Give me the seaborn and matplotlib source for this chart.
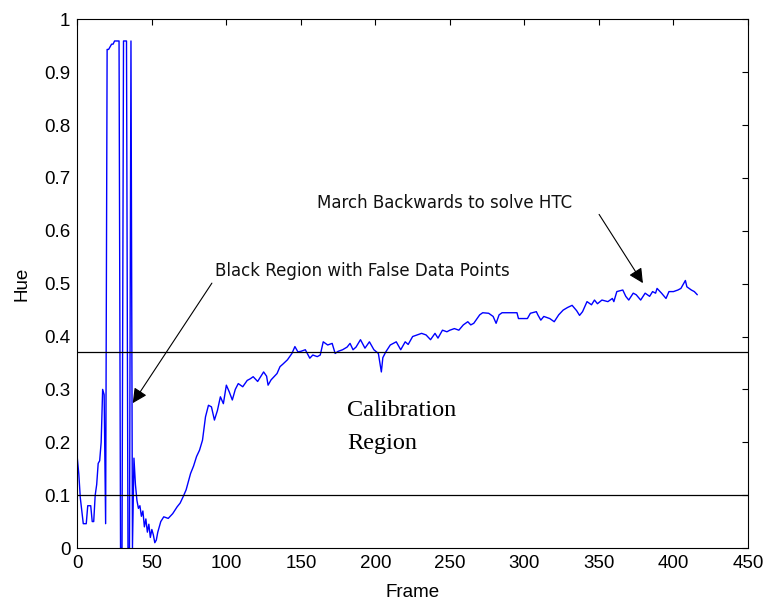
import matplotlib
matplotlib.use("Agg")
import matplotlib.pyplot as plt
import seaborn as sns
import pandas as pd

# ---- data ----
frames = [0, 1, 2, 3, 4, 5, 6, 7, 8, 9, 10, 11, 12, 13, 14, 15, 16, 17, 18, 19,
          20, 21, 22, 23, 24, 25, 26, 27, 28, 29, 30, 31, 32, 33, 34, 35, 36, 37,
          38, 39, 40, 41, 42, 43, 44, 45, 46, 47, 48, 49, 50, 51, 52, 53, 54, 55,
          56, 58, 61, 64, 67, 69, 71, 73, 76, 78, 80, 82, 84, 86, 88, 90, 92, 94,
          96, 98, 100, 102, 104, 106, 108, 111, 114, 116, 118, 121, 125, 127, 128,
          130, 132, 134, 136, 138, 141, 144, 146, 148, 150, 153, 156, 158, 161,
          163, 165, 168, 171, 173, 175, 178, 181, 183, 185, 187, 190, 193, 196,
          199, 202, 204, 205, 207, 210, 214, 217, 220, 222, 225, 228, 231, 234,
          237, 240, 242, 245, 248, 250, 253, 256, 259, 262, 264, 266, 270, 272,
          276, 279, 281, 283, 285, 290, 295, 296, 299, 302, 304, 308, 309, 311,
          313, 317, 320, 323, 326, 329, 332, 335, 337, 339, 342, 345, 347, 349,
          352, 356, 359, 360, 362, 366, 368, 370, 373, 375, 378, 381, 384, 386,
          388, 389, 392, 395, 397, 400, 403, 405, 407, 408, 409, 412, 414, 416]
hue = [0.170, 0.140, 0.095, 0.070, 0.046, 0.046, 0.046, 0.080, 0.080, 0.080,
       0.050, 0.050, 0.100, 0.120, 0.160, 0.165, 0.200, 0.300, 0.290, 0.046,
       0.943, 0.943, 0.948, 0.953, 0.953, 0.959, 0.959, 0.959, 0.959, 0.000,
       0.000, 0.959, 0.959, 0.959, 0.000, 0.000, 0.959, 0.000,
       0.170, 0.120, 0.090, 0.075, 0.080, 0.060, 0.070, 0.040, 0.055, 0.030,
       0.045, 0.020, 0.035, 0.025, 0.010, 0.015, 0.030, 0.040,
       0.050, 0.059, 0.056, 0.065, 0.078, 0.085, 0.097, 0.110, 0.141, 0.155,
       0.173, 0.185, 0.204, 0.248, 0.270, 0.267, 0.242, 0.260,
       0.286, 0.273, 0.308, 0.295, 0.280, 0.300, 0.311, 0.305, 0.317, 0.320,
       0.324, 0.315, 0.333, 0.325, 0.308,
       0.318, 0.324, 0.330, 0.343, 0.348, 0.356, 0.368, 0.381, 0.371, 0.372,
       0.375, 0.359, 0.365, 0.362,
       0.365, 0.390, 0.384, 0.387, 0.368, 0.372, 0.375, 0.380, 0.387, 0.375,
       0.380, 0.394, 0.378, 0.390,
       0.375, 0.368, 0.333, 0.360, 0.371, 0.384, 0.390, 0.375, 0.390, 0.385,
       0.400, 0.403, 0.406, 0.403,
       0.394, 0.406, 0.397, 0.412, 0.409, 0.412, 0.415, 0.412, 0.422, 0.428,
       0.422, 0.425, 0.441, 0.445,
       0.444, 0.438, 0.425, 0.441, 0.445, 0.445, 0.445, 0.434, 0.434, 0.434,
       0.444, 0.447, 0.441, 0.431,
       0.438, 0.434, 0.428, 0.441, 0.450, 0.455, 0.459, 0.449, 0.440, 0.447,
       0.466, 0.460, 0.469, 0.462,
       0.469, 0.466, 0.472, 0.466, 0.485, 0.488, 0.476, 0.469, 0.482, 0.479,
       0.469, 0.482, 0.476, 0.485,
       0.482, 0.491, 0.482, 0.472, 0.485, 0.485, 0.488, 0.491, 0.501, 0.506,
       0.494, 0.488, 0.485, 0.479]

thresholds = [0.37, 0.10]
x_ticks = [0, 50, 100, 150, 200, 250, 300, 350, 400, 450]
y_ticks = [0, 0.1, 0.2, 0.3, 0.4, 0.5, 0.6, 0.7, 0.8, 0.9, 1]
y_ticklabels = ["0", "0.1", "0.2", "0.3", "0.4", "0.5", "0.6", "0.7", "0.8", "0.9", "1"]

df = pd.DataFrame({"Frame": frames, "Hue": hue})

sns.set_theme(style="white")
plt.rcParams["font.family"] = ["Liberation Sans", "DejaVu Sans"]

fig = plt.figure(figsize=(7.67, 6.05), dpi=100)
ax = fig.add_axes([0.1008, 0.0942, 0.8744, 0.8739])

sns.lineplot(data=df, x="Frame", y="Hue", ax=ax, color="#0000ff",
             linewidth=1.0, estimator=None, sort=False)

for t in thresholds:
    ax.axhline(t, color="black", linewidth=0.9)

ax.set_xlim(0, 450)
ax.set_ylim(0, 1)
ax.set_xticks(x_ticks)
ax.set_xticklabels([str(v) for v in x_ticks])
ax.set_yticks(y_ticks)
ax.set_yticklabels(y_ticklabels)
ax.tick_params(direction="in", length=4.5, width=0.8, colors="black",
               labelsize=13.5, top=True, right=True, pad=5)
for s in ax.spines.values():
    s.set_visible(True)
    s.set_color("black")
    s.set_linewidth(0.8)
ax.set_xlabel("Frame", fontsize=13.5, color="black", labelpad=9)
ax.set_ylabel("Hue", fontsize=13.5, color="black", labelpad=10)

# annotations
ax.text(92.7, 0.523, "Black Region with False Data Points", fontsize=12,
        family="DejaVu Sans", ha="left", va="center", color="#111111")
ax.annotate("", xy=(37.2, 0.274), xytext=(90.3, 0.501),
            arrowprops=dict(arrowstyle="-|>", color="black", lw=0.8,
                            mutation_scale=22, shrinkA=0, shrinkB=0))
ax.text(160.9, 0.653, "March Backwards to solve HTC", fontsize=12,
        family="DejaVu Sans", ha="left", va="center", color="#111111")
ax.annotate("", xy=(379.5, 0.501), xytext=(350.1, 0.631),
            arrowprops=dict(arrowstyle="-|>", color="black", lw=0.8,
                            mutation_scale=22, shrinkA=0, shrinkB=0))
ax.text(181, 0.250, "Calibration", fontsize=17.5, family="Liberation Serif",
        ha="left", va="baseline", color="black")
ax.text(181, 0.187, "Region", fontsize=17.5, family="Liberation Serif",
        ha="left", va="baseline", color="black")

fig.savefig("out.png", dpi=100)
